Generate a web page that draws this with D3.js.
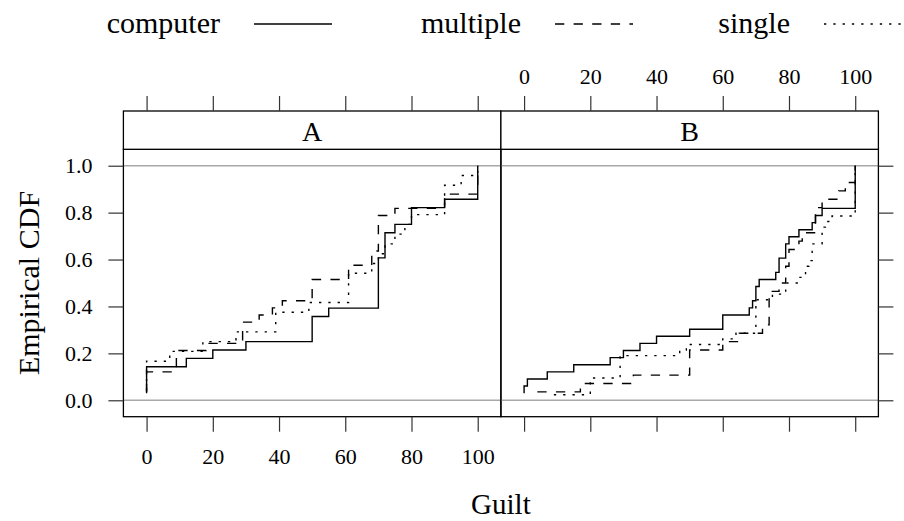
<!DOCTYPE html>
<html>
<head>
<meta charset="utf-8">
<script src="https://cdn.jsdelivr.net/npm/d3@7"></script>
<style>
  html, body { margin: 0; padding: 0; background: #fff; }
  svg { display: block; }
  text { font-family: "Liberation Serif", "Times New Roman", serif; fill: #000; }
</style>
</head>
<body>
<svg id="chart" width="904" height="521"></svg>
<script>
// Guilt ratings per panel and presentation group
const panels = ["A", "B"];
const groups = ["computer", "multiple", "single"];

const computerA = [0, 0, 0, 0, 12, 20, 30, 50, 50, 50, 55, 70, 70, 70, 70, 70, 70,
  72, 72, 72, 75, 80, 80, 90, 100, 100, 100, 100];
const multipleA = [0, 0, 0, 0, 9, 9, 9, 18, 29, 29, 29, 34, 38, 41, 50, 50, 50,
  61, 61, 68, 68, 70, 70, 70, 70, 70, 75, 90, 90, 100, 100, 100, 100];
const singleA = [0, 0, 0, 0, 7, 17, 27, 39, 39, 49, 61, 61, 61, 68, 70, 72, 75,
  78, 80, 90, 90, 90, 95, 100];

const computerB = [0, 0, 1, 7, 15, 26, 30, 35, 40, 50, 60, 60, 68, 69, 70, 70, 71,
  76, 77, 77, 79, 79, 80, 83, 87, 88, 90, 100, 100, 100, 100, 100, 100];
const multipleB = [4, 17, 33, 50, 50, 50, 60, 65, 72, 74, 74, 74, 74, 77, 79, 79,
  80, 80, 83, 84, 88, 88, 88, 90, 95, 97, 100, 100];
const singleB = [9, 20, 20, 20, 29, 29, 29, 29, 47, 49, 60, 64, 70, 70, 70, 70, 70,
  70, 75, 79, 79, 83, 85, 85, 86, 87, 87, 87, 90, 90, 90, 91, 93,
  100, 100, 100, 100, 100, 100, 100, 100, 100];

const seriesByPanel = {
  A: { computer: computerA, multiple: multipleA, single: singleA },
  B: { computer: computerB, multiple: multipleB, single: singleB }
};

const xTicks = [0, 20, 40, 60, 80, 100];
const yTicks = [0, 0.2, 0.4, 0.6, 0.8, 1.0];
const xTitle = "Guilt";
const yTitle = "Empirical CDF";

// Layout
const panelLeft = { A: 123.4, B: 500.9 };
const panelW = 377.5;
const stripTop = 111, stripBottom = 149.3, plotBottom = 416.7;
const tickLen = 15;
const dashStyle = { computer: null, multiple: "9.3,9.3", single: "2.3,7" };

const svg = d3.select("#chart");

const x = d3.scaleLinear().domain([-7, 107]).range([0, panelW]);
const y = d3.scaleLinear().domain([-0.07, 1.07]).range([plotBottom, stripBottom]);

const fmtY = d3.format(".1f");

panels.forEach((p, pi) => {
  const g = svg.append("g").attr("transform", `translate(${panelLeft[p]},0)`);

  // reference lines at 0 and 1
  g.selectAll("line.ref").data([0, 1]).enter().append("line")
    .attr("class", "ref")
    .attr("x1", 0).attr("x2", panelW)
    .attr("y1", d => y(d)).attr("y2", d => y(d))
    .attr("stroke", "#a8a8a8").attr("stroke-width", 1.6);

  // ECDF step lines
  groups.forEach(gr => {
    const vals = seriesByPanel[p][gr].slice().sort((a, b) => a - b);
    const n = vals.length;
    const pts = vals.map((v, i) => [v, (i + 1) / n]);
    const line = d3.line().x(d => x(d[0])).y(d => y(d[1])).curve(d3.curveStepAfter);
    g.append("path")
      .attr("d", line(pts))
      .attr("fill", "none")
      .attr("stroke", "#000")
      .attr("stroke-width", 1.4)
      .attr("stroke-dasharray", dashStyle[gr]);
  });

  // panel frame
  g.append("rect")
    .attr("x", 0).attr("y", stripBottom)
    .attr("width", panelW).attr("height", plotBottom - stripBottom)
    .attr("fill", "none").attr("stroke", "#000").attr("stroke-width", 1.3);

  // strip
  g.append("rect")
    .attr("x", 0).attr("y", stripTop)
    .attr("width", panelW).attr("height", stripBottom - stripTop)
    .attr("fill", "#fff").attr("stroke", "#000").attr("stroke-width", 1.3);
  g.append("text")
    .attr("x", panelW / 2).attr("y", (stripTop + stripBottom) / 2 + 1)
    .attr("text-anchor", "middle").attr("dominant-baseline", "central")
    .attr("font-size", 28).text(p);

  // top axis: ticks on both panels, labels only above B
  const topAxis = d3.axisTop(x).tickValues(xTicks).tickSize(tickLen).tickSizeOuter(0).tickPadding(12)
    .tickFormat(pi === 1 ? d3.format("d") : () => "");
  const ta = g.append("g").attr("transform", `translate(0,${stripTop})`).call(topAxis);

  // bottom axis: ticks on both panels, labels only below A
  const botAxis = d3.axisBottom(x).tickValues(xTicks).tickSize(tickLen).tickSizeOuter(0).tickPadding(17)
    .tickFormat(pi === 0 ? d3.format("d") : () => "");
  const ba = g.append("g").attr("transform", `translate(0,${plotBottom})`).call(botAxis);

  [ta, ba].forEach(a => {
    a.select(".domain").remove();
    a.selectAll(".tick line").attr("stroke", "#333").attr("stroke-width", 1.2);
    a.selectAll(".tick text").attr("font-size", 22)
      .style("font-family", '"Liberation Serif", serif').attr("fill", "#000");
  });

  if (pi === 0) {
    const la = g.append("g").call(
      d3.axisLeft(y).tickValues(yTicks).tickSize(tickLen).tickSizeOuter(0).tickPadding(16).tickFormat(fmtY));
    la.select(".domain").remove();
    la.selectAll(".tick line").attr("stroke", "#333").attr("stroke-width", 1.2);
    la.selectAll(".tick text").attr("font-size", 22)
      .style("font-family", '"Liberation Serif", serif').attr("fill", "#000");
  } else {
    const ra = g.append("g").attr("transform", `translate(${panelW},0)`).call(
      d3.axisRight(y).tickValues(yTicks).tickSize(tickLen).tickSizeOuter(0).tickFormat(() => ""));
    ra.select(".domain").remove();
    ra.selectAll(".tick line").attr("stroke", "#333").attr("stroke-width", 1.2);
  }
});

// axis titles
svg.append("text")
  .attr("x", (panelLeft.A + panelLeft.B + panelW) / 2).attr("y", 504)
  .attr("text-anchor", "middle").attr("dominant-baseline", "central")
  .attr("font-size", 29).text(xTitle);
svg.append("text")
  .attr("transform", `translate(28,${(stripBottom + plotBottom) / 2}) rotate(-90)`)
  .attr("text-anchor", "middle").attr("dominant-baseline", "central")
  .attr("font-size", 30).text(yTitle);

// key across the top
const keyLineStart = [254, 555, 824];
const keyLineLen = 78;
const keyY = 22;
const key = svg.append("g");
groups.forEach((gr, i) => {
  key.append("text")
    .attr("x", keyLineStart[i] - 34).attr("y", keyY)
    .attr("text-anchor", "end").attr("dominant-baseline", "central")
    .attr("font-size", 30).text(gr);
  key.append("line")
    .attr("x1", keyLineStart[i]).attr("x2", keyLineStart[i] + keyLineLen)
    .attr("y1", keyY + 2).attr("y2", keyY + 2)
    .attr("stroke", "#000").attr("stroke-width", 1.4)
    .attr("stroke-dasharray", dashStyle[gr]);
});
</script>
</body>
</html>
